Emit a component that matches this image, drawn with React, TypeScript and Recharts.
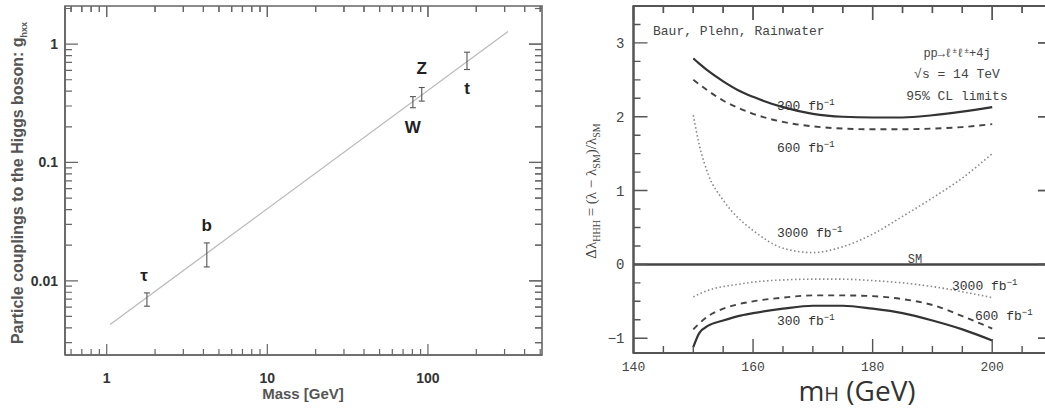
import React from "react";
import {
  ComposedChart,
  Line,
  Scatter,
  ErrorBar,
  XAxis,
  YAxis,
  ReferenceLine,
  ReferenceArea
} from "recharts";

// ---- left panel: couplings vs mass ----
const particles = ["τ", "b", "W", "Z", "t"];
const masses = [1.78, 4.2, 80.6, 91.5, 175];
const couplings = [0.0069, 0.0166, 0.33, 0.377, 0.72];
const errLow = [0.0008, 0.0035, 0.04, 0.047, 0.11];
const errHigh = [0.001, 0.0043, 0.03, 0.053, 0.135];
const fitMass = [1.05, 315];
const fitCoupling = [0.00427, 1.28];

const massTicks = [0.6, 0.7, 0.8, 0.9, 1, 2, 3, 4, 5, 6, 7, 8, 9, 10, 20, 30, 40, 50, 60, 70, 80, 90, 100, 200, 300, 400, 500];
const massMajor = [1, 10, 100];
const couplingTicks = [0.003, 0.004, 0.005, 0.006, 0.007, 0.008, 0.009, 0.01, 0.02, 0.03, 0.04, 0.05, 0.06, 0.07, 0.08, 0.09, 0.1, 0.2, 0.3, 0.4, 0.5, 0.6, 0.7, 0.8, 0.9, 1, 2];
const couplingMajor = [0.01, 0.1, 1];

// ---- right panel: self-coupling limits vs mH ----
const mH = [150, 151, 152.5, 155, 157.5, 160, 165, 170, 175, 180, 185, 190, 195, 200];
const up300 = [2.79, 2.72, 2.62, 2.48, 2.36, 2.27, 2.13, 2.04, 2.0, 1.99, 1.99, 2.02, 2.07, 2.13];
const up600 = [2.5, 2.44, 2.35, 2.22, 2.12, 2.04, 1.93, 1.87, 1.84, 1.83, 1.83, 1.84, 1.86, 1.9];
const up3000 = [2.02, 1.62, 1.22, 0.87, 0.63, 0.46, 0.22, 0.16, 0.24, 0.41, 0.65, 0.9, 1.17, 1.5];
const lo3000 = [-0.44, -0.4, -0.35, -0.3, -0.27, -0.24, -0.21, -0.2, -0.2, -0.22, -0.25, -0.3, -0.37, -0.45];
const lo600 = [-0.88, -0.8, -0.7, -0.6, -0.54, -0.5, -0.45, -0.42, -0.42, -0.43, -0.47, -0.55, -0.7, -0.87];
const lo300 = [-1.12, -0.93, -0.83, -0.76, -0.7, -0.66, -0.6, -0.56, -0.56, -0.6, -0.66, -0.76, -0.88, -1.03];

const mHTicks = [140, 145, 150, 155, 160, 165, 170, 175, 180, 185, 190, 195, 200, 205, 210];
const mHMajor = [140, 160, 180, 200];
const lambdaTicks = [-1, -0.75, -0.5, -0.25, 0, 0.25, 0.5, 0.75, 1, 1.25, 1.5, 1.75, 2, 2.25, 2.5, 2.75, 3, 3.25];
const lambdaMajor = [-1, 0, 1, 2, 3];

const pointData = particles.map((name, i) => ({
  name,
  m: masses[i],
  g: couplings[i],
  err: [errLow[i], errHigh[i]]
}));
const fitData = fitMass.map((m, i) => ({ m, g: fitCoupling[i] }));
const limitData = mH.map((m, i) => ({
  m,
  up300: up300[i],
  up600: up600[i],
  up3000: up3000[i],
  lo3000: lo3000[i],
  lo600: lo600[i],
  lo300: lo300[i]
}));

const labelShift: Record<string, [number, number]> = {
  "τ": [-3, -19],
  b: [0, -24],
  W: [0, 32],
  Z: [0, -20],
  t: [0, 33]
};

interface TickOpts {
  major: number;
  minor: number;
  span: number; // distance to the opposite (mirrored) side of the frame
  color: string;
  width: number;
  offset: number;
  font: string;
  size: number;
  weight: number | string;
  fill: string;
  fmt?: (v: number) => string;
}

// inward tick on the axis side and on the mirrored side, plus the label for majors
function makeTick(side: "bottom" | "left", majors: number[], o: TickOpts) {
  return (props: any) => {
    const x = Number(props.x);
    const y = Number(props.y);
    const v = props.payload.value;
    const isMajor = majors.includes(v);
    const len = isMajor ? o.major : o.minor;
    const txt = o.fmt ? o.fmt(v) : String(v);
    if (side === "bottom") {
      const top = y - o.span;
      return (
        <g>
          <path d={`M${x},${y}V${y - len}M${x},${top}V${top + len}`} stroke={o.color} strokeWidth={o.width} fill="none" />
          {isMajor && (
            <text x={x} y={y + o.offset} textAnchor="middle" fontFamily={o.font} fontSize={o.size} fontWeight={o.weight} fill={o.fill}>
              {txt}
            </text>
          )}
        </g>
      );
    }
    const right = x + o.span;
    return (
      <g>
        <path d={`M${x},${y}H${x + len}M${right},${y}H${right - len}`} stroke={o.color} strokeWidth={o.width} fill="none" />
        {isMajor && (
          <text x={x - o.offset} y={y + 5} textAnchor="end" fontFamily={o.font} fontSize={o.size} fontWeight={o.weight} fill={o.fill}>
            {txt}
          </text>
        )}
      </g>
    );
  };
}

const sansBold = { font: "Liberation Sans, Arial, sans-serif", size: 14, weight: 700, fill: "#333" };
const mono = { font: "Liberation Mono, DejaVu Sans Mono, monospace", size: 13, weight: 400, fill: "#444" };

function ParticleMark(props: any) {
  const { cx, cy, payload } = props;
  const [dx, dy] = labelShift[payload.name] || [0, -20];
  return (
    <text x={cx + dx} y={cy + dy} textAnchor="middle" fontFamily={sansBold.font} fontSize={17} fontWeight={700} fill="#222">
      {payload.name}
    </text>
  );
}

const L = { w: 545, h: 408, top: 6, right: 3, axisW: 65, axisH: 53 };
const R = { w: 534, h: 408, top: 6, right: 2, axisW: 113.5, axisH: 55 };

function CouplingChart() {
  const axisColor = "#666";
  const [xMin, xMax] = [0.55, 513];
  const [yMin, yMax] = [0.00236, 2.1];
  const plotW = L.w - L.right - L.axisW;
  const plotH = L.h - L.top - L.axisH;
  return (
    <ComposedChart width={L.w} height={L.h} margin={{ top: L.top, right: L.right, bottom: 0, left: 0 }}>
      <ReferenceArea x1={xMin} x2={xMax} y1={yMin} y2={yMax} fill="none" fillOpacity={0} stroke={axisColor} strokeWidth={1.6} />
      <XAxis
        dataKey="m"
        type="number"
        scale="log"
        domain={[xMin, xMax]}
        allowDataOverflow
        ticks={massTicks}
        interval={0}
        height={L.axisH}
        tickSize={0}
        tickMargin={0}
        tickLine={false}
        axisLine={{ stroke: axisColor, strokeWidth: 1.6 }}
        tick={makeTick("bottom", massMajor, { major: 11, minor: 6, span: plotH, color: axisColor, width: 1.2, offset: 28, ...sansBold })}
      />
      <YAxis
        dataKey="g"
        type="number"
        scale="log"
        domain={[yMin, yMax]}
        allowDataOverflow
        ticks={couplingTicks}
        interval={0}
        width={L.axisW}
        tickSize={0}
        tickMargin={0}
        tickLine={false}
        axisLine={{ stroke: axisColor, strokeWidth: 1.6 }}
        tick={makeTick("left", couplingMajor, { major: 13, minor: 7, span: plotW, color: axisColor, width: 1.2, offset: 7, ...sansBold })}
      />
      {/* mirrored ticks on the top and right edges of the frame */}
      {massTicks.map((v) => (
        <ReferenceLine
          key={`tx${v}`}
          ifOverflow="visible"
          segment={[{ x: v, y: yMax }, { x: v, y: yMax * (massMajor.includes(v) ? 0.807 : 0.889) }]}
          stroke={axisColor}
          strokeWidth={1.2}
        />
      ))}
      {couplingTicks.map((v) => (
        <ReferenceLine
          key={`ty${v}`}
          ifOverflow="visible"
          segment={[{ x: xMax, y: v }, { x: xMax * (couplingMajor.includes(v) ? 0.83 : 0.905), y: v }]}
          stroke={axisColor}
          strokeWidth={1.2}
        />
      ))}
      <Line
        data={fitData}
        dataKey="g"
        type="linear"
        stroke="#bbb"
        strokeWidth={1.3}
        dot={false}
        isAnimationActive={false}
      />
      <Scatter data={pointData} dataKey="g" shape={<ParticleMark />} isAnimationActive={false}>
        <ErrorBar dataKey="err" direction="y" width={3} stroke="#555" strokeWidth={1.1} />
      </Scatter>
    </ComposedChart>
  );
}

function LimitChart() {
  const axisColor = "#555";
  const [xMin, xMax] = [140, 210];
  const [yMin, yMax] = [-1.2, 3.5];
  const plotW = R.w - R.right - R.axisW;
  const plotH = R.h - R.top - R.axisH;
  return (
    <ComposedChart width={R.w} height={R.h} data={limitData} margin={{ top: R.top, right: R.right, bottom: 0, left: 0 }}>
      <ReferenceArea x1={xMin} x2={xMax} y1={yMin} y2={yMax} fill="none" fillOpacity={0} stroke={axisColor} strokeWidth={2} />
      <XAxis
        dataKey="m"
        type="number"
        domain={[xMin, xMax]}
        allowDataOverflow
        ticks={mHTicks}
        interval={0}
        height={R.axisH}
        tickSize={0}
        tickMargin={0}
        tickLine={false}
        axisLine={{ stroke: axisColor, strokeWidth: 2 }}
        tick={makeTick("bottom", mHMajor, { major: 14, minor: 7, span: plotH, color: axisColor, width: 1.4, offset: 18, ...mono })}
      />
      <YAxis
        type="number"
        domain={[yMin, yMax]}
        allowDataOverflow
        ticks={lambdaTicks}
        interval={0}
        width={R.axisW}
        tickSize={0}
        tickMargin={0}
        tickLine={false}
        axisLine={{ stroke: axisColor, strokeWidth: 2 }}
        tick={makeTick("left", lambdaMajor, {
          major: 14,
          minor: 7,
          span: plotW,
          color: axisColor,
          width: 1.4,
          offset: 9,
          fmt: (v) => (v < 0 ? "\u2212" + Math.abs(v) : String(v)),
          ...mono,
          size: 14
        })}
      />
      {/* mirrored ticks on the top and right edges of the frame */}
      {mHTicks.map((v) => (
        <ReferenceLine
          key={`tx${v}`}
          ifOverflow="visible"
          segment={[{ x: v, y: yMax }, { x: v, y: yMax - (mHMajor.includes(v) ? 0.19 : 0.095) }]}
          stroke={axisColor}
          strokeWidth={1.4}
        />
      ))}
      {lambdaTicks.map((v) => (
        <ReferenceLine
          key={`ty${v}`}
          ifOverflow="visible"
          segment={[{ x: xMax, y: v }, { x: xMax - (lambdaMajor.includes(v) ? 2.34 : 1.17), y: v }]}
          stroke={axisColor}
          strokeWidth={1.4}
        />
      ))}
      <ReferenceLine y={0} stroke="#444" strokeWidth={2.5} />
      <Line dataKey="up300" type="monotone" stroke="#333" strokeWidth={2.2} dot={false} isAnimationActive={false} />
      <Line dataKey="up600" type="monotone" stroke="#444" strokeWidth={1.9} strokeDasharray="6 5" dot={false} isAnimationActive={false} />
      <Line dataKey="up3000" type="monotone" stroke="#888" strokeWidth={1.6} strokeDasharray="1.5 2.5" dot={false} isAnimationActive={false} />
      <Line dataKey="lo3000" type="monotone" stroke="#888" strokeWidth={1.6} strokeDasharray="1.5 2.5" dot={false} isAnimationActive={false} />
      <Line dataKey="lo600" type="monotone" stroke="#444" strokeWidth={1.9} strokeDasharray="6 5" dot={false} isAnimationActive={false} />
      <Line dataKey="lo300" type="monotone" stroke="#333" strokeWidth={2.2} dot={false} isAnimationActive={false} />
    </ComposedChart>
  );
}

function Lumi({ x, y, n }: { x: number; y: number; n: string }) {
  return (
    <text x={x} y={y} fontFamily={mono.font} fontSize={13} fill="#333">
      {n} fb
      <tspan dy={-5} fontSize={9}>−1</tspan>
    </text>
  );
}

export default function App() {
  return (
    <div style={{ position: "absolute", left: 0, top: 0, width: 1045, height: 408, overflow: "hidden", background: "#fff" }}>
      <div style={{ position: "absolute", left: 0, top: 0 }}>
        <CouplingChart />
      </div>
      <div style={{ position: "absolute", left: 520, top: 0 }}>
        <LimitChart />
      </div>
      <svg width={1045} height={408} style={{ position: "absolute", left: 0, top: 0, pointerEvents: "none" }}>
        {/* left panel titles */}
        <text x={303} y={399} textAnchor="middle" fontFamily={sansBold.font} fontSize={15} fontWeight={700} fill="#555">
          Mass [GeV]
        </text>
        <text
          transform="translate(23,183) rotate(-90)"
          textAnchor="middle"
          fontFamily={sansBold.font}
          fontSize={16}
          fontWeight={700}
          fill="#555"
        >
          Particle couplings to the Higgs boson: g
          <tspan dy={4} fontSize={9}>hxx</tspan>
        </text>

        {/* right panel titles */}
        <text x={857} y={401} textAnchor="middle" fontFamily="Open Sans, Noto Sans, sans-serif" fontSize={28} fill="#333">
          m<tspan fontSize={20}>H</tspan> (GeV)
        </text>
        <text
          transform="translate(596,191) rotate(-90)"
          textAnchor="middle"
          fontFamily="Liberation Serif, serif"
          fontSize={15}
          fill="#444"
        >
          Δλ<tspan dy={4} fontSize={10}>HHH</tspan>
          <tspan dy={-4}> = (λ − λ</tspan>
          <tspan dy={4} fontSize={10}>SM</tspan>
          <tspan dy={-4}>)/λ</tspan>
          <tspan dy={4} fontSize={10}>SM</tspan>
        </text>

        <text x={653} y={35} fontFamily={mono.font} fontSize={13} fill="#444">Baur, Plehn, Rainwater</text>
        <text x={957} y={57} textAnchor="middle" fontFamily={mono.font} fontSize={12} fill="#444">
          pp→ℓ<tspan dy={-4} fontSize={8}>±</tspan>
          <tspan dy={4}>ℓ</tspan>
          <tspan dy={-4} fontSize={8}>±</tspan>
          <tspan dy={4}>+4j</tspan>
        </text>
        <text x={957} y={78} textAnchor="middle" fontFamily={mono.font} fontSize={13} fill="#444">√s = 14 TeV</text>
        <text x={957} y={100} textAnchor="middle" fontFamily={mono.font} fontSize={13} fill="#444">95% CL limits</text>

        <Lumi x={777} y={110} n="300" />
        <Lumi x={777} y={152} n="600" />
        <Lumi x={777} y={237} n="3000" />
        <text x={915} y={263} textAnchor="middle" fontFamily={mono.font} fontSize={12} fill="#444">SM</text>
        <Lumi x={952} y={290} n="3000" />
        <Lumi x={975} y={320} n="600" />
        <Lumi x={777} y={325} n="300" />
      </svg>
    </div>
  );
}
